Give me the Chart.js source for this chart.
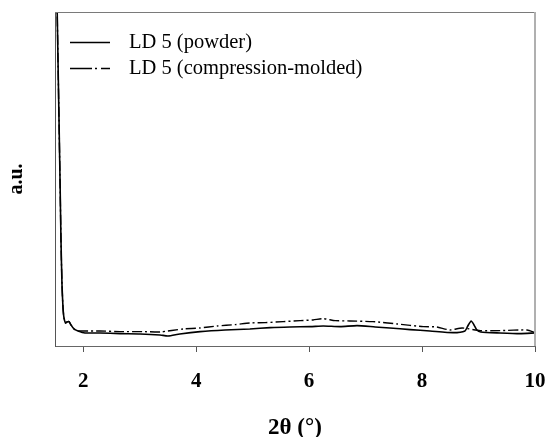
<!DOCTYPE html>
<html>
<head>
<meta charset="utf-8">
<script src="https://cdn.jsdelivr.net/npm/chart.js@4.4.1/dist/chart.umd.min.js"></script>
<style>
  html, body { margin: 0; padding: 0; background: #fff; }
  #wrap { width: 551px; height: 437px; position: relative; }
</style>
</head>
<body>
<div id="wrap"><canvas id="c" width="551" height="437"></canvas></div>
<script>
const seriesNames = ["LD 5 (powder)", "LD 5 (compression-molded)"];
const xTickLabels = [2, 4, 6, 8, 10];

const powderX = [1.535, 1.553, 1.571, 1.589, 1.606, 1.624, 1.642, 1.659, 1.686, 1.712, 1.748, 1.783, 1.836, 1.907, 2.03, 2.30, 2.65, 3.01, 3.36, 3.50, 3.71, 4.07, 4.51, 4.95, 5.31, 5.66, 6.02, 6.25, 6.55, 6.85, 7.17, 7.43, 7.79, 8.14, 8.55, 8.76, 8.81, 8.87, 8.92, 8.97, 9.04, 9.38, 9.73, 10.0];
const powderY = [104, 85.6, 67.7, 49.7, 31.7, 18.3, 11.4, 8.4, 6.9, 7.2, 7.3, 6.3, 5.1, 4.5, 3.9, 3.9, 3.7, 3.6, 3.3, 3.0, 3.6, 4.3, 4.8, 5.1, 5.5, 5.7, 5.8, 6.0, 5.8, 6.1, 5.7, 5.4, 4.9, 4.5, 4.0, 4.5, 6.0, 7.5, 6.3, 4.8, 4.2, 3.9, 3.7, 3.9];

const moldedX = [1.535, 1.553, 1.571, 1.589, 1.606, 1.624, 1.642, 1.659, 1.686, 1.712, 1.748, 1.783, 1.836, 1.907, 2.03, 2.30, 2.65, 3.09, 3.36, 3.77, 4.07, 4.37, 4.69, 4.95, 5.22, 5.54, 5.84, 6.07, 6.25, 6.46, 6.72, 7.13, 7.56, 8.02, 8.26, 8.49, 8.71, 9.03, 9.38, 9.86, 10.0];
const moldedY = [104, 85.6, 67.7, 49.7, 31.7, 18.3, 11.4, 8.4, 6.9, 7.2, 7.3, 6.3, 5.1, 4.5, 4.5, 4.5, 4.3, 4.3, 4.2, 5.1, 5.4, 6.0, 6.4, 6.9, 7.0, 7.3, 7.6, 7.8, 8.2, 7.6, 7.5, 7.3, 6.6, 5.8, 5.7, 4.8, 5.4, 4.6, 4.6, 4.8, 4.0];

const toPts = (xs, ys) => xs.map((x, i) => ({ x: x, y: ys[i] }));

const SERIF = "'Liberation Serif', 'DejaVu Serif', serif";

const framePlugin = {
  id: 'frame',
  afterDatasetsDraw(chart) {
    const { ctx, chartArea: a } = chart;
    ctx.save();
    ctx.strokeStyle = '#7a7a7a';
    ctx.lineWidth = 1;
    ctx.beginPath();
    ctx.moveTo(a.left, a.top + 0.5);
    ctx.lineTo(a.right, a.top + 0.5);
    ctx.stroke();
    ctx.strokeStyle = '#b0b0b0';
    ctx.lineWidth = 2;
    ctx.beginPath();
    ctx.moveTo(a.right, a.top);
    ctx.lineTo(a.right, a.bottom);
    ctx.stroke();
    ctx.restore();
  }
};

const legendPlugin = {
  id: 'innerLegend',
  afterDraw(chart) {
    const { ctx } = chart;
    ctx.save();
    ctx.font = "20.5px " + SERIF;
    ctx.textBaseline = 'middle';
    ctx.fillStyle = '#000';
    const rows = [42, 68];
    const legendDash = [[], [22, 3, 2, 4, 10]];
    chart.data.datasets.forEach((ds, i) => {
      const y = rows[i] + 0.5;
      ctx.strokeStyle = ds.borderColor;
      ctx.lineWidth = 1.3;
      ctx.setLineDash(ds.borderDash ? legendDash[i] : []);
      ctx.beginPath();
      ctx.moveTo(70, y);
      ctx.lineTo(110, y);
      ctx.stroke();
      ctx.setLineDash([]);
      ctx.fillText(ds.label, 129, rows[i] + 1);
    });
    ctx.restore();
  }
};

new Chart(document.getElementById('c'), {
  type: 'line',
  data: {
    datasets: [
      {
        label: seriesNames[0],
        data: toPts(powderX, powderY),
        borderColor: '#000',
        borderWidth: 1.6,
        pointRadius: 0,
        tension: 0.2,
        fill: false
      },
      {
        label: seriesNames[1],
        data: toPts(moldedX, moldedY),
        borderColor: '#000',
        borderWidth: 1.4,
        borderDash: [10, 3, 2, 3],
        pointRadius: 0,
        tension: 0.2,
        fill: false
      }
    ]
  },
  options: {
    responsive: false,
    animation: false,
    events: [],
    layout: { padding: { left: 5, right: 16, top: 12, bottom: 0 } },
    plugins: { legend: { display: false }, tooltip: { enabled: false } },
    scales: {
      x: {
        type: 'linear',
        min: 1.5,
        max: 10,
        afterBuildTicks: (s) => { s.ticks = xTickLabels.map(v => ({ value: v })); },
        afterFit: (s) => { s.height = 91; s.paddingLeft = 0; s.paddingRight = 0; },
        grid: { display: true, drawOnChartArea: false, drawTicks: true, tickLength: 6, color: '#555', lineWidth: 1 },
        border: { display: true, color: '#666', width: 1 },
        ticks: {
          font: { family: SERIF, size: 21, weight: 'bold' },
          color: '#000',
          padding: 17,
          maxRotation: 0,
          autoSkip: false
        },
        title: {
          display: true,
          text: '2θ (°)',
          font: { family: SERIF, size: 23, weight: 'bold', lineHeight: 0.8 },
          color: '#000',
          padding: { top: 0, bottom: 0 }
        }
      },
      y: {
        type: 'linear',
        min: 0,
        max: 100,
        afterFit: (s) => { s.width = 50; },
        grid: { display: false },
        border: { display: true, color: '#555', width: 1 },
        ticks: { display: false },
        title: {
          display: true,
          text: 'a.u.',
          font: { family: SERIF, size: 20, weight: 'bold' },
          color: '#000',
          padding: { top: 0, bottom: 0 }
        }
      }
    }
  },
  plugins: [framePlugin, legendPlugin]
});
</script>
</body>
</html>
